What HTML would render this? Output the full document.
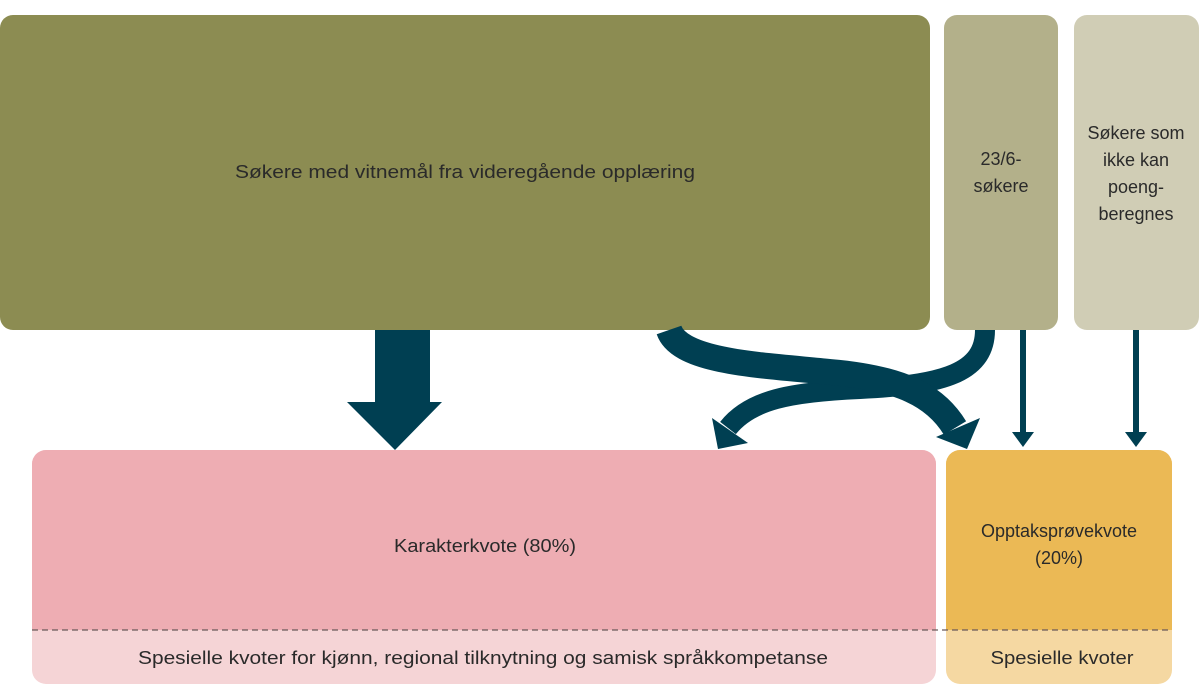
<!DOCTYPE html>
<html><head><meta charset="utf-8"><style>
html,body{margin:0;padding:0;background:#fff;}
svg{display:block;}
text{font-family:"Liberation Sans",sans-serif;font-size:18px;fill:#2a2a2a;}
</style></head><body>
<svg width="1200" height="700" viewBox="0 0 1200 700" xmlns="http://www.w3.org/2000/svg">
<rect x="0" y="15" width="930" height="315" rx="13" fill="#8c8c52"/>
<rect x="944" y="15" width="114" height="315" rx="13" fill="#b3b08a"/>
<rect x="1074" y="15" width="125" height="315" rx="13" fill="#d0cdb5"/>
<rect x="32" y="450" width="904" height="234" rx="14" fill="#f5d4d6"/>
<rect x="32" y="450" width="904" height="180" rx="14" fill="#eeadb3"/>
<rect x="32" y="610" width="904" height="20" fill="#eeadb3"/>
<rect x="946" y="450" width="226" height="234" rx="14" fill="#f5d8a2"/>
<rect x="946" y="450" width="226" height="180" rx="14" fill="#ebb955"/>
<rect x="946" y="610" width="226" height="20" fill="#ebb955"/>
<line x1="32" y1="630" x2="1172" y2="630" stroke="#6a5a5a" stroke-width="1.2" stroke-dasharray="6,4"/>
<polygon points="375,330 430,330 430,402 442,402 395,450 347,402 375,402" fill="#003f52"/>
<rect x="1020" y="330" width="6" height="104" fill="#003f52"/>
<polygon points="1012,432 1034,432 1023,447" fill="#003f52"/>
<rect x="1133" y="330" width="6" height="104" fill="#003f52"/>
<polygon points="1125,432 1147,432 1136,447" fill="#003f52"/>
<path d="M985,330 C985,372 945,385 860,389 C790,392 750,400 728,428" fill="none" stroke="#003f52" stroke-width="20"/>
<polygon points="712,418 748,443 718,449" fill="#003f52"/>
<path d="M669,330 C680,362 760,365 830,372 C900,378 935,395 955,428" fill="none" stroke="#003f52" stroke-width="26"/>
<polygon points="936,437 980,418 967,449" fill="#003f52"/>
<text x="465" y="178" text-anchor="middle" textLength="460" lengthAdjust="spacingAndGlyphs">Søkere med vitnemål fra videregående opplæring</text>
<text x="1001" y="165" text-anchor="middle" font-size="19">23/6-</text>
<text x="1001" y="192" text-anchor="middle" font-size="19">søkere</text>
<text x="1136" y="139" text-anchor="middle" font-size="19">Søkere som</text>
<text x="1136" y="166" text-anchor="middle" font-size="19">ikke kan</text>
<text x="1136" y="193" text-anchor="middle" font-size="19">poeng-</text>
<text x="1136" y="220" text-anchor="middle" font-size="19">beregnes</text>
<text x="485" y="552" text-anchor="middle" textLength="182" lengthAdjust="spacingAndGlyphs">Karakterkvote (80%)</text>
<text x="1059" y="537" text-anchor="middle" font-size="19">Opptaksprøvekvote</text>
<text x="1059" y="564" text-anchor="middle" font-size="19">(20%)</text>
<text x="483" y="664" text-anchor="middle" textLength="690" lengthAdjust="spacingAndGlyphs">Spesielle kvoter for kjønn, regional tilknytning og samisk språkkompetanse</text>
<text x="1062" y="664" text-anchor="middle" textLength="143" lengthAdjust="spacingAndGlyphs">Spesielle kvoter</text>
</svg>
</body></html>
